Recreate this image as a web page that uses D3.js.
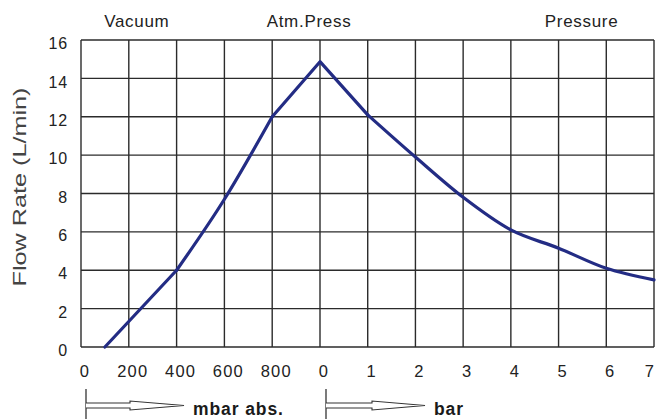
<!DOCTYPE html>
<html>
<head>
<meta charset="utf-8">
<script src="https://cdn.jsdelivr.net/npm/d3@7"></script>
<style>
html,body{margin:0;padding:0;background:#fff;}
svg{display:block;}
text{font-family:"Liberation Sans",Arial,sans-serif;}
</style>
</head>
<body>
<svg id="chart" width="656" height="419"></svg>
<script>
// ---- data ----
const vacuumTicks = [0, 200, 400, 600, 800];          // mbar abs.
const pressureTicks = [0, 1, 2, 3, 4, 5, 6, 7];       // bar
const yTicks = [0, 2, 4, 6, 8, 10, 12, 14, 16];
const vacuumMbar = [100, 400, 600, 800, 1000];
const vacuumFlow = [0, 4, 7.7, 12, 14.87];
const pressureBar = [0, 1, 2, 3, 4, 5, 6, 7];
const pressureFlow = [14.87, 12.1, 9.9, 7.8, 6.1, 5.15, 4.1, 3.5];
const topLabels = ["Vacuum", "Atm.Press", "Pressure"];
const yTitle = "Flow Rate  (L/min)";
const unitLabels = ["mbar abs.", "bar"];

(function () {
// ---- layout ----
const svg = d3.select("#chart");
const pLeft = 81, pMid = 320, pRight = 654, pTop = 40, pBottom = 347;
const xVac = d3.scaleLinear().domain([0, 1000]).range([pLeft, pMid]);
const xBar = d3.scaleLinear().domain([0, 7]).range([pMid, pRight]);
const y = d3.scaleLinear().domain([0, 16]).range([pBottom, pTop]);

const gridColor = "#2b2b2b";
const g = svg.append("g");

// horizontal grid
g.selectAll("line.h").data(yTicks).enter().append("line")
  .attr("x1", pLeft).attr("x2", pRight)
  .attr("y1", d => y(d)).attr("y2", d => y(d))
  .attr("stroke", gridColor).attr("stroke-width", 1.4);
// vertical grid
const vx = vacuumTicks.map(d => xVac(d)).concat(pressureTicks.map(d => xBar(d)));
g.selectAll("line.v").data(vx).enter().append("line")
  .attr("x1", d => d).attr("x2", d => d)
  .attr("y1", pTop).attr("y2", pBottom)
  .attr("stroke", gridColor).attr("stroke-width", 1.4);

// y tick labels
g.selectAll("text.yt").data(yTicks).enter().append("text")
  .attr("x", 68).attr("y", d => y(d) + 5)
  .attr("text-anchor", "end").attr("dominant-baseline", "middle")
  .attr("font-size", 16).attr("letter-spacing", 0.8).attr("fill", "#222").text(d => d);

// x tick labels
const xLabels = vacuumTicks.map(d => ({x: xVac(d), t: d}))
  .concat(pressureTicks.map(d => ({x: xBar(d), t: d})));
g.selectAll("text.xt").data(xLabels).enter().append("text")
  .attr("x", d => Math.min(d.x + 4, 650))
  .attr("y", 377)
  .attr("text-anchor", "middle")
  .attr("font-size", 16.5).attr("letter-spacing", 1.2).attr("fill", "#222").text(d => d.t);

// top labels
const topX = [xVac(200) + 8, pMid - 11, xBar(5) + 23];
g.selectAll("text.top").data(topLabels).enter().append("text")
  .attr("x", (d, i) => topX[i]).attr("y", 27)
  .attr("text-anchor", "middle")
  .attr("font-size", 17).attr("letter-spacing", 0.7).attr("fill", "#222").text(d => d);

// y title
svg.append("text")
  .attr("transform", `translate(26,187) rotate(-90)`)
  .attr("text-anchor", "middle")
  .attr("font-size", 19).attr("fill", "#444")
  .attr("textLength", 199).attr("lengthAdjust", "spacingAndGlyphs")
  .text(yTitle);

// ---- curve ----
const vacPts = vacuumMbar.map((m, i) => [xVac(m), y(vacuumFlow[i])]);
const barPts = pressureBar.map((b, i) => [xBar(b), y(pressureFlow[i])]);
const lin = d3.line().curve(d3.curveLinear);
const mono = d3.line().curve(d3.curveMonotoneX);
const lineColor = "#232c84";
const segs = [
  {pts: vacPts.slice(0, 2), gen: lin},
  {pts: vacPts.slice(1, 4), gen: mono},
  {pts: vacPts.slice(3, 5).concat(barPts.slice(1, 2)), gen: lin},
  {pts: barPts.slice(1), gen: mono}
];
g.selectAll("path.seg").data(segs).enter().append("path")
  .attr("d", d => d.gen(d.pts))
  .attr("fill", "none").attr("stroke", lineColor)
  .attr("stroke-width", 3.2).attr("stroke-linejoin", "round").attr("stroke-linecap", "round");

// ---- bottom arrows ----
const arrows = [
  {vx: xVac(0) + 5, hs: 130, tip: 184, label: unitLabels[0], lx: 193},
  {vx: xBar(0) + 6, hs: 372, tip: 425, label: unitLabels[1], lx: 434}
];
arrows.forEach(a => {
  svg.append("line").attr("x1", a.vx).attr("x2", a.vx).attr("y1", 389).attr("y2", 419)
    .attr("stroke", "#333").attr("stroke-width", 1.3);
  const p = `M${a.vx},403 L${a.hs},403 L${a.hs},401 L${a.tip},405.5 L${a.hs},410 L${a.hs},408 L${a.vx},408`;
  svg.append("path").attr("d", p).attr("fill", "#fff").attr("stroke", "#333").attr("stroke-width", 1.1);
  svg.append("text").attr("x", a.lx).attr("y", 415)
    .attr("font-size", 17.5).attr("letter-spacing", 0.9).attr("font-weight", "bold").attr("fill", "#1a1a1a")
    .text(a.label);
});
})();
</script>
</body>
</html>
